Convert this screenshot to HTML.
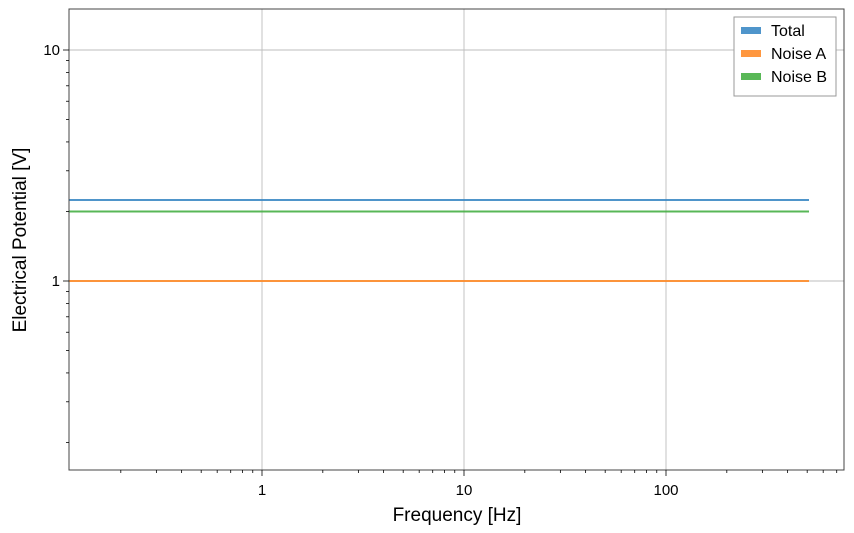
<!DOCTYPE html>
<html><head><style>body{margin:0;background:#fff}svg{display:block;font-family:"Liberation Sans","DejaVu Sans",sans-serif}</style></head>
<body>
<svg id="s" width="854" height="533" viewBox="0 0 854 533" xmlns="http://www.w3.org/2000/svg">
<rect x="0" y="0" width="854" height="533" fill="#fff"/>
<g id="grid" stroke="#bdbdbd" stroke-width="0.9"></g>
<line x1="69" y1="200" x2="809" y2="200" stroke="#3c8ac5" stroke-width="2" opacity="0.9"/>
<line x1="69" y1="211.5" x2="809" y2="211.5" stroke="#47b045" stroke-width="2" opacity="0.9"/>
<line x1="69" y1="281" x2="809" y2="281" stroke="#ff8c2a" stroke-width="2" opacity="0.9"/>
<rect x="69" y="9" width="775" height="461" fill="none" stroke="#444" stroke-width="1"/>
<g id="ticks" stroke="#000" stroke-width="0.8"></g>
<g font-size="15" fill="#000" id="labels"></g>
<text x="457" y="521" font-size="19" text-anchor="middle">Frequency [Hz]</text>
<text transform="translate(26,240) rotate(-90)" font-size="19" text-anchor="middle">Electrical Potential [V]</text>
<rect x="734" y="17" width="102" height="79" fill="#fff" stroke="#999" stroke-width="1"/>
<rect x="741" y="27" width="20" height="7" fill="#3c8ac5" opacity="0.9"/>
<rect x="741" y="50" width="20" height="7" fill="#ff8c2a" opacity="0.9"/>
<rect x="741" y="73" width="20" height="7" fill="#47b045" opacity="0.9"/>
<text x="771" y="36" font-size="16">Total</text>
<text x="771" y="59" font-size="16">Noise A</text>
<text x="771" y="82" font-size="16">Noise B</text>
</svg>
<script>
var NS="http://www.w3.org/2000/svg";
function el(p,t,a){var e=document.createElementNS(NS,t);for(var k in a)e.setAttribute(k,a[k]);document.getElementById(p).appendChild(e);return e;}
function X(v){return 262+202*Math.log10(v);}
function Y(v){return 281-231*Math.log10(v);}
[0.1,1,10,100].forEach(function(d){for(var i=1;i<10;i++){var v=d*i,x=X(v);if(x<69||x>844)continue;
 if(i==1){el("grid","line",{x1:x,y1:9,x2:x,y2:470});el("ticks","line",{x1:x,y1:470,x2:x,y2:476});
  var t=el("labels","text",{x:x,y:495,"text-anchor":"middle"});t.textContent=v>=1?String(v):v;}
 else el("ticks","line",{x1:x,y1:470,x2:x,y2:473});}});
[0.1,1,10].forEach(function(d){for(var i=1;i<10;i++){var v=d*i,y=Y(v);if(y<9||y>470)continue;
 if(i==1){el("grid","line",{x1:69,y1:y,x2:844,y2:y});el("ticks","line",{x1:63,y1:y,x2:69,y2:y});
  var t=el("labels","text",{x:60,y:y+5,"text-anchor":"end"});t.textContent=String(v);}
 else el("ticks","line",{x1:66,y1:y,x2:69,y2:y});}});
</script>
</body></html>
